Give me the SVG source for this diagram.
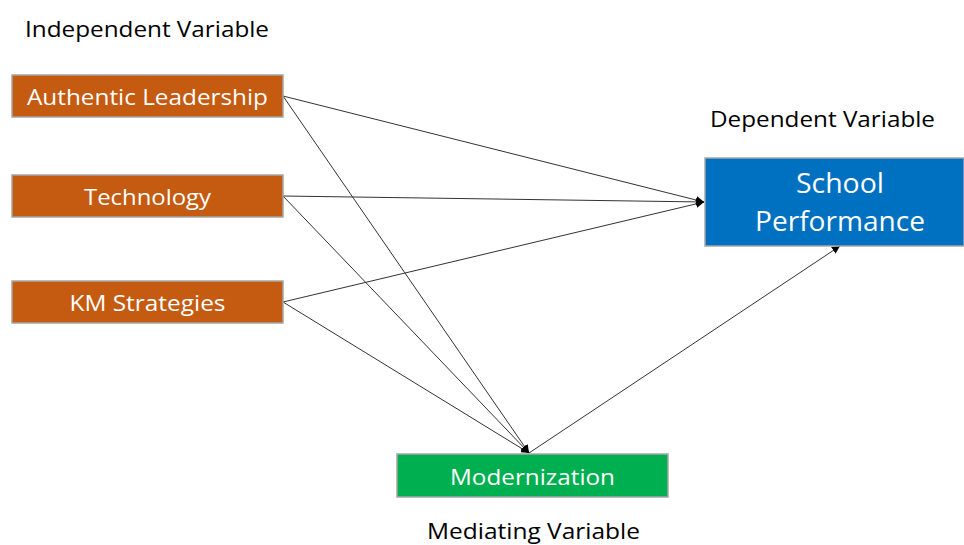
<svg xmlns="http://www.w3.org/2000/svg" width="964" height="545" viewBox="0 0 964 545">
<defs>
<marker id="arr" viewBox="0 0 10 10" refX="10" refY="5" markerWidth="8" markerHeight="8" markerUnits="userSpaceOnUse" orient="auto"><path d="M0,0 L10,5 L0,10 z" fill="#000"/></marker>
<style>
.box{stroke:#A6A6A6;stroke-width:1.5}
.or{fill:#C55A11}.bl{fill:#0070C0}.gr{fill:#00B050}
.wt{fill:#fff;font-family:"Open Sans","Liberation Sans",sans-serif;text-anchor:middle}
.lb{fill:#000;font-family:"Open Sans","Liberation Sans",sans-serif}
.ln{stroke:#333;stroke-width:1;fill:none}
</style>
</defs>
<rect width="964" height="545" fill="#fff"/>
<text class="lb" x="25" y="37" font-size="21" textLength="244" lengthAdjust="spacingAndGlyphs">Independent Variable</text>
<text class="lb" x="710" y="127" font-size="21" textLength="225" lengthAdjust="spacingAndGlyphs">Dependent Variable</text>
<text class="lb" x="427" y="539" font-size="21" textLength="213" lengthAdjust="spacingAndGlyphs">Mediating Variable</text>
<g id="connectors">
<line class="ln" x1="283" y1="96" x2="704" y2="202" marker-end="url(#arr)"/>
<line class="ln" x1="283" y1="196" x2="704" y2="202" marker-end="url(#arr)"/>
<line class="ln" x1="283" y1="302" x2="704" y2="202" marker-end="url(#arr)"/>
<line class="ln" x1="283" y1="96" x2="529" y2="453" marker-end="url(#arr)"/>
<line class="ln" x1="283" y1="196" x2="529" y2="453" marker-end="url(#arr)"/>
<line class="ln" x1="283" y1="302" x2="529" y2="453" marker-end="url(#arr)"/>
<line class="ln" x1="529" y1="453" x2="840" y2="246" marker-end="url(#arr)"/>
</g>
<g id="authentic-leadership">
<rect class="box or" x="12" y="75" width="271" height="42"/>
<text class="wt" x="147.5" y="105" font-size="22" textLength="241" lengthAdjust="spacingAndGlyphs">Authentic Leadership</text>
</g>
<g id="technology">
<rect class="box or" x="12" y="175" width="271" height="42"/>
<text class="wt" x="147.5" y="205" font-size="22" textLength="127" lengthAdjust="spacingAndGlyphs">Technology</text>
</g>
<g id="km-strategies">
<rect class="box or" x="12" y="281" width="271" height="42"/>
<text class="wt" x="147.5" y="311" font-size="22" textLength="156" lengthAdjust="spacingAndGlyphs">KM Strategies</text>
</g>
<g id="school-performance">
<rect class="box bl" x="705" y="158" width="259" height="88"/>
<text class="wt" x="840" y="193" font-size="27" textLength="88" lengthAdjust="spacingAndGlyphs">School</text>
<text class="wt" x="840" y="231" font-size="27" textLength="170" lengthAdjust="spacingAndGlyphs">Performance</text>
</g>
<g id="modernization">
<rect class="box gr" x="397" y="454" width="271" height="43"/>
<text class="wt" x="532.5" y="485" font-size="22" textLength="165" lengthAdjust="spacingAndGlyphs">Modernization</text>
</g>
</svg>
